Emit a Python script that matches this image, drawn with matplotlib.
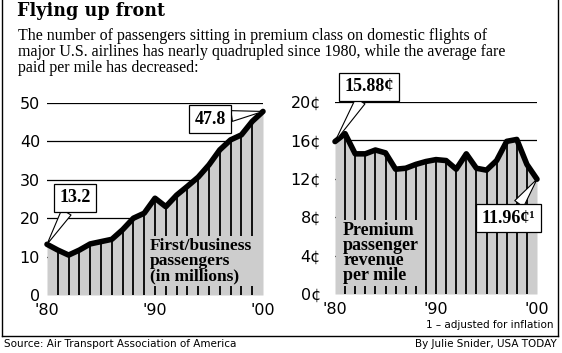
import matplotlib
matplotlib.use("Agg")
import matplotlib.pyplot as plt
from matplotlib.lines import Line2D

# Data
years = [1980, 1981, 1982, 1983, 1984, 1985, 1986, 1987, 1988, 1989, 1990,
         1991, 1992, 1993, 1994, 1995, 1996, 1997, 1998, 1999, 2000]
passengers = [13.2, 11.7, 10.4, 11.7, 13.3, 13.9, 14.5, 17.0, 20.0, 21.3, 25.2,
              23.0, 26.0, 28.3, 30.7, 33.9, 37.8, 40.4, 41.7, 45.2, 47.8]
revenue = [15.88, 16.7, 14.6, 14.6, 15.0, 14.7, 13.0, 13.1, 13.5, 13.8, 14.0,
           13.9, 13.0, 14.6, 13.1, 12.9, 13.9, 15.9, 16.1, 13.5, 11.96]

left_yticks = [0, 10, 20, 30, 40, 50]
left_ylabels = ["0", "10", "20", "30", "40", "50"]
right_yticks = [0, 4, 8, 12, 16, 20]
right_ylabels = ["0¢", "4¢", "8¢", "12¢", "16¢", "20¢"]
xticks = [1980, 1990, 2000]
xlabels = ["'80", "'90", "'00"]

FILL = "#cdcdcd"
W, H = 562, 353

fig = plt.figure(figsize=(W / 100, H / 100), dpi=100)


def px_axes(x0, x1, y_top, y_bot):
    return fig.add_axes([x0 / W, (H - y_bot) / H, (x1 - x0) / W, (y_bot - y_top) / H])


def draw_panel(ax, values, ymax, yticks, ylabels, ypad):
    ax.set_xlim(1980, 2000)
    ax.set_ylim(0, ymax)
    for v in yticks[1:]:
        ax.plot([1980, 2000], [v, v], color="black", lw=0.9, zorder=1)
    ax.fill_between(years, 0, values, color=FILL, lw=0, zorder=2)
    ax.vlines(years[1:-1], 0, values[1:-1], color="black", lw=1.3, zorder=3)
    ax.plot(years, values, color="black", lw=4.0, solid_capstyle="round",
            solid_joinstyle="round", zorder=5, clip_on=False)
    ax.set_yticks(yticks)
    ax.set_yticklabels(ylabels)
    ax.set_xticks(xticks)
    ax.set_xticklabels(xlabels)
    ax.tick_params(length=0, labelsize=11.5, colors="black")
    ax.tick_params(axis="y", pad=ypad)
    ax.tick_params(axis="x", pad=6)
    for s in ax.spines.values():
        s.set_visible(False)


def callout(ax, text, xy, xytext):
    ax.annotate(text, xy=xy, xytext=xytext, ha="center", va="center",
                fontsize=13, fontweight="bold", family="Liberation Serif",
                bbox=dict(boxstyle="square,pad=0.3", fc="white", ec="black", lw=0.9),
                arrowprops=dict(arrowstyle="wedge,tail_width=0.6", fc="white",
                                ec="black", lw=0.8, shrinkA=0, shrinkB=0),
                annotation_clip=False, zorder=6)


# Left panel: passengers
ax1 = px_axes(47, 263, 103, 295)
draw_panel(ax1, passengers, 50, left_yticks, left_ylabels, 5)
callout(ax1, "13.2", (1980, 13.2), (1982.6, 25.3))
callout(ax1, "47.8", (2000, 47.8), (1995.1, 45.8))
ax1.text(1989.5, 14.8, "First/business\npassengers\n(in millions)", ha="left", va="top",
         fontsize=12.5, fontweight="bold", family="Liberation Serif", linespacing=0.92,
         bbox=dict(boxstyle="square,pad=0.1", fc=FILL, ec="none"), zorder=4)

# Right panel: revenue per mile
ax2 = px_axes(335, 537, 102, 294)
draw_panel(ax2, revenue, 20, right_yticks, right_ylabels, 10)
callout(ax2, "15.88¢", (1980, 15.88), (1983.4, 21.6))
callout(ax2, "11.96¢¹", (2000, 11.96), (1997.2, 7.9))
ax2.text(1980.8, 7.5, "Premium\npassenger\nrevenue\nper mile", ha="left", va="top",
         fontsize=13, fontweight="bold", family="Liberation Serif", linespacing=0.85,
         bbox=dict(boxstyle="square,pad=0.1", fc=FILL, ec="none"), zorder=4)

# Title and intro text
fig.text(17 / W, 1 - 2 / H, "Flying up front", ha="left", va="top",
         fontsize=14, fontweight="bold", family="DejaVu Serif", fontstretch="condensed")
fig.text(18 / W, 1 - 28 / H,
         "The number of passengers sitting in premium class on domestic flights of\n"
         "major U.S. airlines has nearly quadrupled since 1980, while the average fare\n"
         "paid per mile has decreased:",
         ha="left", va="top", fontsize=11.5, family="Liberation Serif", linespacing=1.0)

# Footnote, source, credit
fig.text(553 / W, 1 - 325 / H, "1 – adjusted for inflation", ha="right", va="center",
         fontsize=7.5, family="DejaVu Sans")
fig.text(4 / W, 1 - 344 / H, "Source: Air Transport Association of America", ha="left",
         va="center", fontsize=7.5, family="DejaVu Sans")
fig.text(557 / W, 1 - 344 / H, "By Julie Snider, USA TODAY", ha="right", va="center",
         fontsize=7.5, family="DejaVu Sans")

# Frame
for xs, ys in [([2, 2], [0, 336]), ([2, 558], [336, 336]), ([558, 558], [0, 336])]:
    fig.add_artist(Line2D([x / W for x in xs], [1 - y / H for y in ys],
                          color="black", lw=1.0))

fig.savefig("out.png", dpi=100)
